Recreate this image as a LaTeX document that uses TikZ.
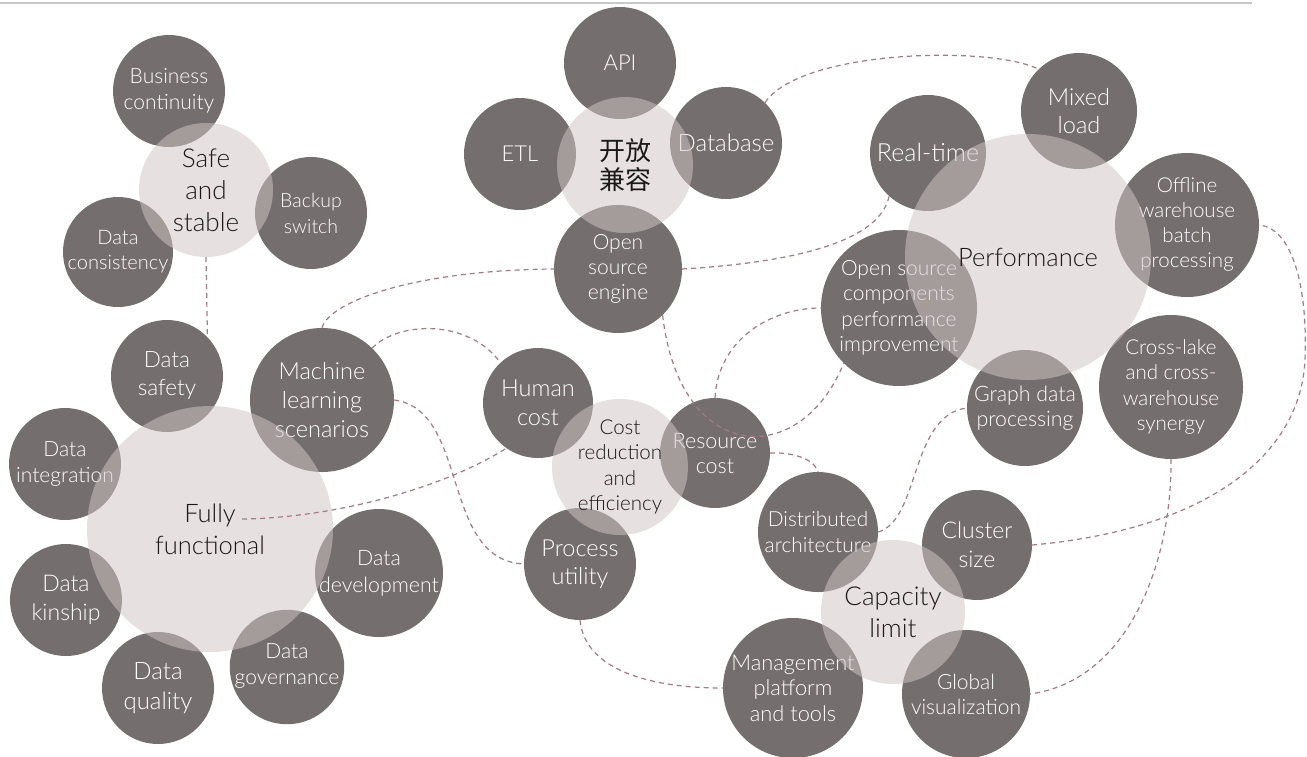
\documentclass[tikz,border=0pt]{standalone}
\usepackage{fontspec}
\setmainfont{Lato Light}
\newfontfamily\cjk{Noto Sans CJK SC}
\definecolor{bubble}{RGB}{116,111,110}
\definecolor{hub}{RGB}{209,197,197}
\definecolor{link}{RGB}{165,122,128}
\definecolor{rule}{RGB}{200,200,200}
\tikzset{
  sub/.style n args={3}{circle, fill=bubble, text=white, inner sep=0pt, align=center,
    minimum size=#1, font=\fontsize{#2}{#3}\selectfont},
  hubnode/.style n args={3}{circle, fill=hub, fill opacity=0.52, text opacity=1, text=black!90,
    inner sep=0pt, align=center, minimum size=#1, font=\fontsize{#2}{#3}\selectfont},
  wire/.style={draw=link, line width=1.2pt, dash pattern=on 5pt off 4pt}
}
\begin{document}
\begin{tikzpicture}[x=1pt, y=-1pt]
\fill[white] (0,0) rectangle (1307,756);
\useasboundingbox (0,0) rectangle (1307,756);
\draw[rule, line width=1.5pt] (0,3) -- (1252,3);

% ---- satellite bubbles ----
% safe and stable
\node[sub={112}{21}{26}] (bc) at (169,91) {Business\\continuity};
\node[sub={112}{19.5}{26}] (bs) at (311,213) {Backup\\switch};
\node[sub={110}{20}{25}] (dc) at (118,252) {Data\\consistency};
% fully functional
\node[sub={112}{22.5}{28}] (dsafe) at (167,376) {Data\\safety};
\node[sub={112}{21}{26}] (dint) at (65,464) {Data\\integration};
\node[sub={112}{23}{29}] (dkin) at (66,600) {Data\\kinship};
\node[sub={112}{24}{30}] (dq) at (158,688) {Data\\quality};
\node[sub={112}{21}{26}, text depth=6pt] (dgov) at (287,667) {Data\\governance};
\node[sub={128}{21.3}{27}] (ddev) at (379,573) {Data\\development};
\node[sub={144}{23.5}{29}] (ml) at (322,400) {Machine\\learning\\scenarios};
% open and compatible
\node[sub={112}{22}{28}] (api) at (620,63) {API};
\node[sub={112}{22}{28}] (etl) at (520,154) {ETL};
\node[sub={112}{24}{28}] (db) at (726,143) {Database};
\node[sub={128}{21}{25}] (ose) at (618,269) {Open\\source\\engine};
% performance
\node[sub={116}{23.5}{28}] (mix) at (1079,111) {Mixed\\load};
\node[sub={116}{25}{28}] (rt) at (928,153) {Real-time};
\node[sub={144}{20.5}{25}] (off) at (1187,225) {Offline\\warehouse\\batch\\processing};
\node[sub={156}{21}{25.5}] (osc) at (899,308) {Open source\\components\\performance\\improvement};
\node[sub={116}{21.3}{25}] (gdp) at (1025,408) {Graph data\\processing};
\node[sub={144}{20.5}{25.5}] (xl) at (1171,387) {Cross-lake\\and cross-\\warehouse\\synergy};
% cost reduction
\node[sub={110}{23.5}{29}] (hc) at (538,403) {Human\\cost};
\node[sub={110}{21.5}{25}] (rc) at (715,453) {Resource\\cost};
\node[sub={112}{23.5}{28}] (pu) at (580,564) {Process\\utility};
% capacity limit
\node[sub={120}{20.8}{26}] (da) at (818,532) {Distributed\\architecture};
\node[sub={110}{23}{29}] (cs) at (977,545) {Cluster\\size};
\node[sub={140}{21.8}{25.5}] (mpt) at (793,688) {Management\\platform\\and tools};
\node[sub={128}{21}{25}] (gv) at (966,694) {Global\\visualization};

% ---- hub bubbles ----
\node[hubnode={134}{26}{32}] (ss) at (206,190) {Safe\\and\\stable};
\node[hubnode={246}{25.5}{32}] (ff) at (210,529) {Fully\\functional};
\node[hubnode={136}{26}{29}] (kf) at (625,165) {\cjk 开放\\\cjk 兼容};
\node[hubnode={246}{25.5}{30}] (perf) at (1028,257) {Performance};
\node[hubnode={136}{20.5}{25.5}] (cre) at (620,467) {Cost\\reduction\\and\\efficiency};
\node[hubnode={144}{26}{32}] (cap) at (893,612) {Capacity\\limit};

% ---- dashed links ----
\coordinate (ffend) at (242,519);
\draw[wire] (ss.south) -- (dsafe.44);
\draw[wire] (ffend) .. controls (330,518) and (440,490) .. (hc.235);
\draw[wire] (ml.north) .. controls (330,300) and (420,270) .. (ose.west);
\draw[wire] (ml.46) .. controls (400,320) and (470,320) .. (hc.133);
\draw[wire] (ml.east) .. controls (470,410) and (440,560) .. (pu.west);
\draw[wire] (ose.east) .. controls (800,262) and (880,240) .. (rt.228);
\draw[wire] (db.46) .. controls (800,50) and (990,45) .. (mix.134);
\draw[wire] (ose.-46) .. controls (680,465) and (800,470) .. (osc.225);
\draw[wire] (rc.east) .. controls (795,452) and (815,460) .. (da.north);
\draw[wire] (rc.north) .. controls (718,340) and (770,308) .. (osc.west);
\draw[wire] (da.east) .. controls (920,520) and (910,415) .. (gdp.west);
\draw[wire] (cs.east) .. controls (1200,530) and (1300,460) .. (1305,360)
                      .. controls (1308,280) and (1290,228) .. (off.east);
\draw[wire] (xl.south) .. controls (1172,560) and (1130,680) .. (gv.east);
\draw[wire] (pu.south) .. controls (585,670) and (650,688) .. (mpt.west);
\end{tikzpicture}
\end{document}
